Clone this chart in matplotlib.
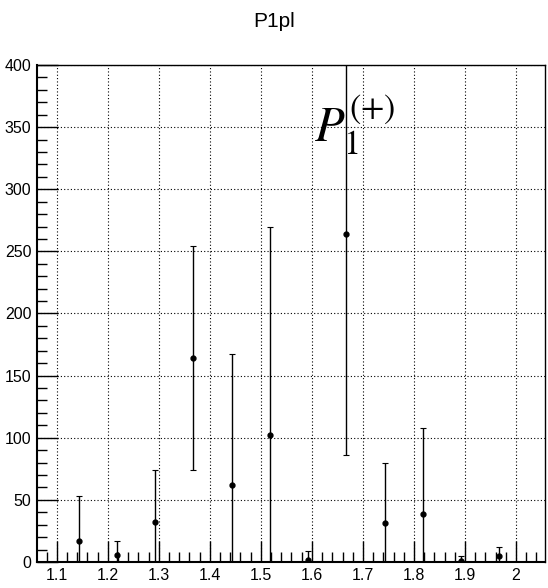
import numpy as np
import matplotlib
matplotlib.use("Agg")
import matplotlib.pyplot as plt
from matplotlib.ticker import MultipleLocator

plt.rcParams['font.family'] = ['Liberation Sans Narrow', 'Liberation Sans', 'DejaVu Sans']
plt.rcParams['mathtext.fontset'] = 'stix'

# bin centres and contents
x = [1.1425, 1.2175, 1.2925, 1.3675, 1.4425, 1.5175,
     1.5925, 1.6675, 1.7425, 1.8175, 1.8925, 1.9675]
y = [17, 6, 32, 164, 62, 102, 2, 264, 31, 39, 1, 5]
yerr = [36, 11, 42, 90, 105, 168, 7, 178, 49, 69, 4, 7]
xlabels = ['1.1', '1.2', '1.3', '1.4', '1.5', '1.6', '1.7', '1.8', '1.9', '2']

fig = plt.figure(figsize=(5.48, 5.88), dpi=100)
ax = fig.add_axes([0.0675, 0.0442, 0.927, 0.8453])

lower = np.minimum(np.array(y), np.array(yerr))  # clip at zero like ROOT
ax.errorbar(x, y, yerr=[lower, yerr], fmt='o', color='black', ms=3.5,
            elinewidth=1, capsize=2, capthick=0.8)

ax.set_xlim(1.061, 2.057)
ax.set_ylim(0, 400)

ax.xaxis.set_minor_locator(MultipleLocator(0.02))
ax.yaxis.set_major_locator(MultipleLocator(50))
ax.yaxis.set_minor_locator(MultipleLocator(10))
ax.set_xticks(np.arange(1.1, 2.05, 0.1))
ax.set_xticklabels(xlabels)

ax.tick_params(which='major', direction='in', length=15, width=1, labelsize=11.5, pad=4)
ax.tick_params(which='minor', direction='in', length=7, width=1)
ax.tick_params(top=False, right=False)

ax.grid(True, which='major', linestyle=(0, (1, 2)), color='black', linewidth=0.8)

for s in ['left', 'bottom']:
    ax.spines[s].set_linewidth(1.5)
for s in ['top', 'right']:
    ax.spines[s].set_linewidth(1)

# P_1^{(+)} label
ax.text(1.605, 338, r'$P_1^{(+)}$', fontsize=35, color='black',
        ha='left', va='baseline')

fig.text(0.5, 0.963, 'P1pl', ha='center', va='center', fontsize=15)

fig.savefig('out.png', dpi=100)
